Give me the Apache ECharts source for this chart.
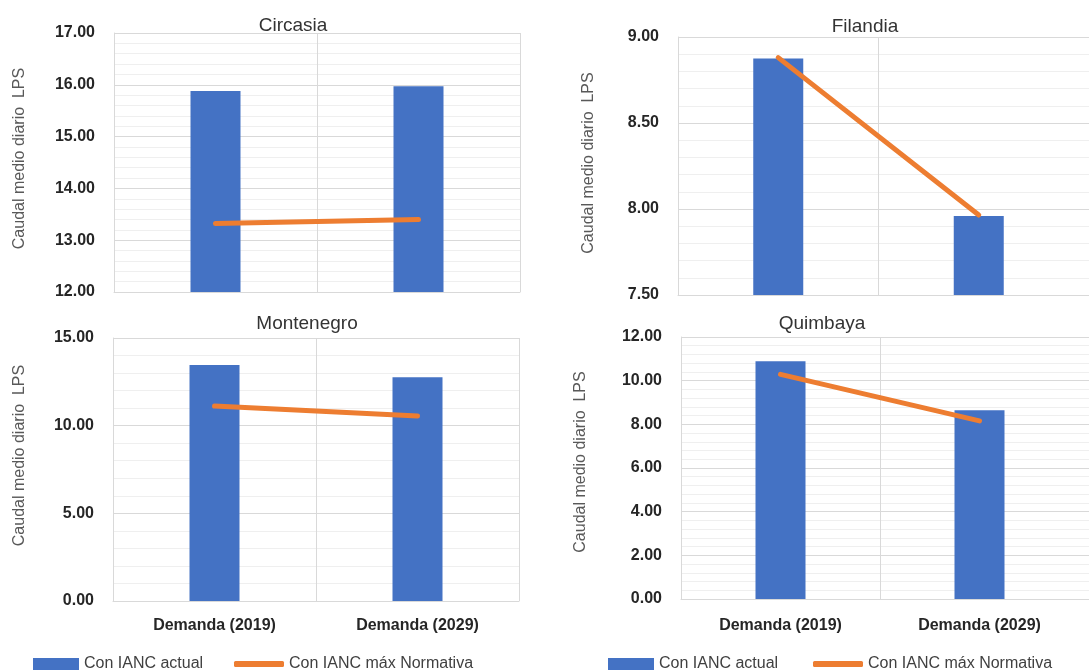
<!DOCTYPE html>
<html>
<head>
<meta charset="utf-8">
<script src="https://cdn.jsdelivr.net/npm/echarts@6/dist/echarts.min.js"></script>
<style>
html,body{margin:0;padding:0;background:#fff;}
#chart{width:1089px;height:670px;}
</style>
</head>
<body>
<div id="chart"></div>
<script>
// ---- data ----
const categories = ['Demanda (2019)', 'Demanda (2029)'];
const seriesNames = ['Con IANC actual', 'Con IANC máx Normativa'];
const panelTitles = ['Circasia', 'Filandia', 'Montenegro', 'Quimbaya'];
const yAxisTitle = 'Caudal medio diario  LPS';

const circasiaActual = [15.88, 15.97];
const circasiaNorm = [13.32, 13.40];
const filandiaActual = [8.875, 7.96];
const filandiaNorm = [8.88, 7.965];
const montenegroActual = [13.46, 12.76];
const montenegroNorm = [11.12, 10.55];
const quimbayaActual = [10.89, 8.65];
const quimbayaNorm = [10.29, 8.16];

const yMins = [12, 7.5, 0, 0];
const yMaxs = [17, 9, 15, 12];
const ySteps = [1, 0.5, 5, 2];

// ---- layout ----
const actualData = [circasiaActual, filandiaActual, montenegroActual, quimbayaActual];
const normData = [circasiaNorm, filandiaNorm, montenegroNorm, quimbayaNorm];
const panels = [
  {grid:{left:114, top:33, width:406, height:259}, right:false, showX:false, nameGap:86, namePad:8, title:[293, 25.5]},
  {grid:{left:678, top:37, width:401, height:258}, right:true, showX:false, nameGap:81, namePad:6, title:[865, 27]},
  {grid:{left:113, top:338, width:406, height:263}, right:false, showX:true, nameGap:85, namePad:28, xMargin:17, title:[307, 323.5]},
  {grid:{left:681, top:337, width:398, height:262}, right:true, showX:true, nameGap:92, namePad:12, xMargin:19, title:[822, 323.5]}
];

const FONT = '"Liberation Sans", Arial, sans-serif';
const majorColor = '#d9d9d9';
const minorColor = '#efefef';

const grid = [], xAxis = [], yAxis = [], series = [], graphic = [];

panels.forEach(function (p, i) {
  const gi = grid.length;
  grid.push(Object.assign({containLabel:false}, p.grid));
  xAxis.push({
    type: 'category', gridIndex: gi, data: categories,
    axisLine: {show: true, lineStyle: {color: majorColor, width: 1}},
    axisTick: {show: false},
    axisLabel: {show: p.showX, margin: p.xMargin || 16, color: '#262626', fontSize: 16, fontWeight: 'bold', fontFamily: FONT},
    splitLine: {show: true, lineStyle: {color: p.right ? [majorColor, majorColor, 'rgba(0,0,0,0)'] : majorColor, width: 1}}
  });
  yAxis.push({
    type: 'value', gridIndex: gi, min: yMins[i], max: yMaxs[i], interval: ySteps[i],
    name: yAxisTitle, nameLocation: 'middle', nameGap: p.nameGap, nameRotate: 90,
    nameTextStyle: {color: '#595959', fontSize: 16, fontFamily: FONT, padding: [0, 0, 0, p.namePad]},
    axisLine: {show: true, lineStyle: {color: majorColor, width: 1}},
    axisTick: {show: false},
    axisLabel: {margin: 19, color: '#262626', fontSize: 16, fontWeight: 'bold', fontFamily: FONT,
      formatter: function (v) { return v.toFixed(2); }},
    minorTick: {show: false, splitNumber: 5},
    splitLine: {show: !p.right, lineStyle: {color: majorColor, width: 1}},
    minorSplitLine: {show: !p.right, lineStyle: {color: minorColor, width: 1}}
  });
  series.push({
    type: 'bar', name: seriesNames[0], xAxisIndex: gi, yAxisIndex: gi,
    data: actualData[i], barWidth: 50, itemStyle: {color: '#4472C4'}, z: 2
  });
  series.push({
    type: 'line', name: seriesNames[1], xAxisIndex: gi, yAxisIndex: gi,
    data: normData[i], symbol: 'none', z: 3,
    lineStyle: {color: '#ED7D31', width: 5, cap: 'round'}, itemStyle: {color: '#ED7D31'}
  });
  graphic.push({
    type: 'text', x: p.title[0], y: p.title[1], silent: true,
    style: {text: panelTitles[i], fill: '#333333', font: '19px ' + FONT, textAlign: 'center', textVerticalAlign: 'middle'}
  });
});

// background grids for right panels: horizontal gridlines run to the image edge
panels.forEach(function (p, i) {
  if (!p.right) return;
  const gi = grid.length;
  grid.push({left: p.grid.left, top: p.grid.top, right: 0, height: p.grid.height});
  xAxis.push({type: 'value', gridIndex: gi, min: 0, max: 1, show: false});
  yAxis.push({
    type: 'value', gridIndex: gi, min: yMins[i], max: yMaxs[i], interval: ySteps[i],
    axisLine: {show: false}, axisTick: {show: false}, axisLabel: {show: false},
    minorTick: {show: false, splitNumber: 5},
    splitLine: {show: true, lineStyle: {color: majorColor, width: 1}},
    minorSplitLine: {show: true, lineStyle: {color: minorColor, width: 1}}
  });
});

const legendText = {color: '#404040', fontSize: 16, fontFamily: FONT};
function barLegend(left) {
  return {left: left, top: 656, padding: 0, itemWidth: 46, itemHeight: 12, itemGap: 0, textStyle: legendText,
    data: [{name: seriesNames[0], icon: 'rect'}], selectedMode: false};
}
function lineLegend(left) {
  return {left: left, top: 656, padding: 0, itemWidth: 50, itemHeight: 6, itemGap: 0, textStyle: legendText,
    itemStyle: {color: '#ED7D31'},
    data: [{name: seriesNames[1], icon: 'roundRect'}], selectedMode: false};
}

const chart = echarts.init(document.getElementById('chart'), null, {renderer: 'canvas'});
chart.setOption({
  animation: false,
  backgroundColor: '#ffffff',
  grid: grid, xAxis: xAxis, yAxis: yAxis, series: series,
  legend: [barLegend(33), lineLegend(234), barLegend(608), lineLegend(813)],
  graphic: graphic
});
</script>
</body>
</html>
